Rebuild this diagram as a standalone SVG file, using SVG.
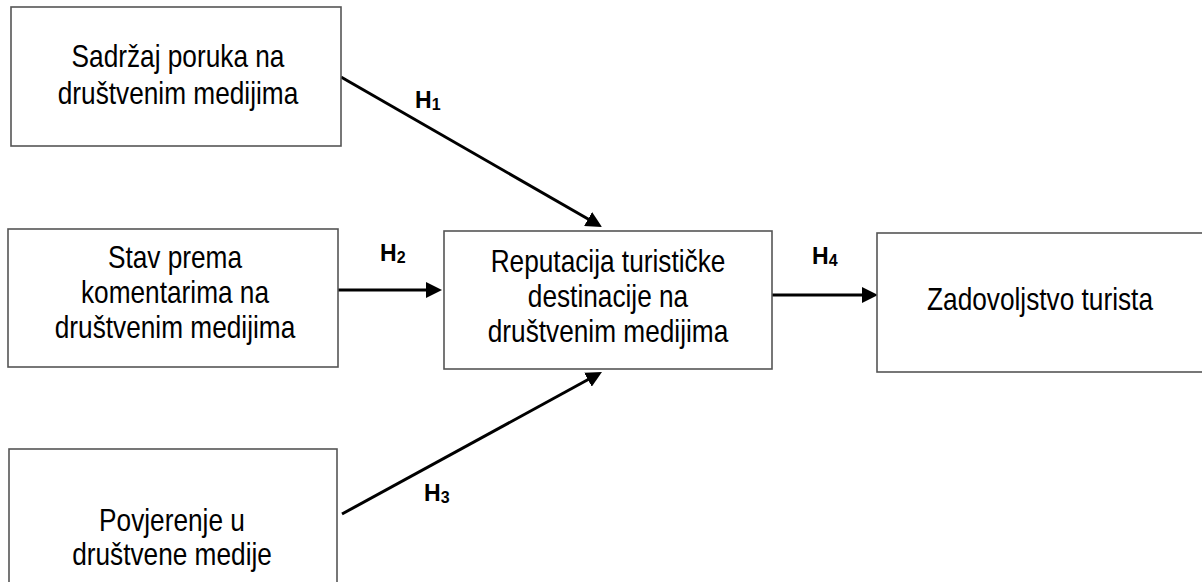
<svg xmlns="http://www.w3.org/2000/svg" width="1202" height="582" viewBox="0 0 1202 582">
<style>
.box{fill:#fff;stroke:#555;stroke-width:1.6}
.t{font-family:"Liberation Sans",Arial,sans-serif;font-size:32px;fill:#000;text-anchor:middle}
.lbl{font-family:"Liberation Sans",Arial,sans-serif;font-size:23px;font-weight:bold;fill:#000}
.sub{font-size:16px}
.arr{stroke:#000;stroke-width:3;fill:none;marker-end:url(#ah)}
</style>
<defs>
<marker id="ah" viewBox="0 0 16 16" refX="6" refY="8" markerWidth="16" markerHeight="16" markerUnits="userSpaceOnUse" orient="auto">
<path d="M0,0 L16,8 L0,16 Z" fill="#000"/>
</marker>
</defs>
<rect width="1202" height="582" fill="#fff"/>
<g id="connectors">
<line class="arr" x1="341" y1="77" x2="593.3" y2="222"/>
<line class="arr" x1="338" y1="290" x2="432" y2="290"/>
<line class="arr" x1="342" y1="514" x2="593.2" y2="376.8"/>
<line class="arr" x1="772" y1="295" x2="868" y2="295"/>
<text class="lbl" x="415" y="108">H<tspan class="sub" dy="2">1</tspan></text>
<text class="lbl" x="380" y="261">H<tspan class="sub" dy="2">2</tspan></text>
<text class="lbl" x="424" y="501">H<tspan class="sub" dy="2">3</tspan></text>
<text class="lbl" x="812" y="264">H<tspan class="sub" dy="2">4</tspan></text>
</g>
<g id="n1">
<rect class="box" x="11" y="7" width="330" height="139"/>
<g transform="translate(178,0) scale(0.82,1)">
<text class="t" x="0" y="67">Sadržaj poruka na</text>
<text class="t" x="0" y="104">društvenim medijima</text>
</g>
</g>
<g id="n2">
<rect class="box" x="8" y="229" width="330" height="138"/>
<g transform="translate(175,0) scale(0.82,1)">
<text class="t" x="0" y="268">Stav prema</text>
<text class="t" x="0" y="303">komentarima na</text>
<text class="t" x="0" y="338">društvenim medijima</text>
</g>
</g>
<g id="n3">
<rect class="box" x="9" y="449" width="328" height="160"/>
<g transform="translate(172,0) scale(0.82,1)">
<text class="t" x="0" y="531">Povjerenje u</text>
<text class="t" x="0" y="565">društvene medije</text>
</g>
</g>
<g id="n4">
<rect class="box" x="444" y="231" width="328" height="138"/>
<g transform="translate(608,0) scale(0.82,1)">
<text class="t" x="0" y="272">Reputacija turističke</text>
<text class="t" x="0" y="307">destinacije na</text>
<text class="t" x="0" y="342">društvenim medijima</text>
</g>
</g>
<g id="n5">
<rect class="box" x="877" y="233" width="340" height="139"/>
<g transform="translate(1040,0) scale(0.82,1)">
<text class="t" x="0" y="310">Zadovoljstvo turista</text>
</g>
</g>
</svg>
